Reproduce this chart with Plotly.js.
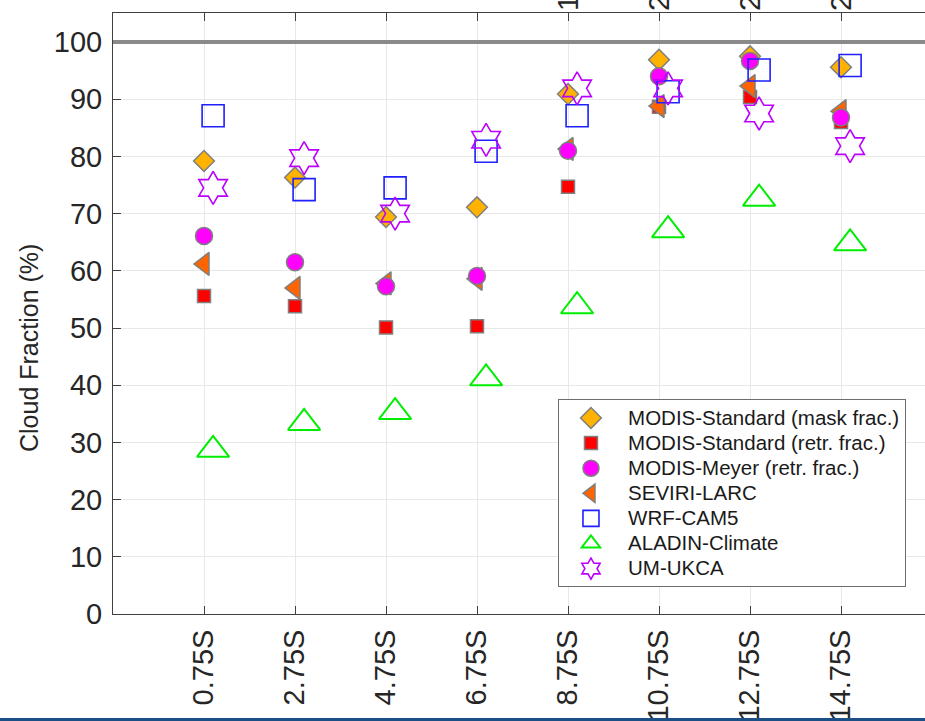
<!DOCTYPE html>
<html><head><meta charset="utf-8">
<script src="https://cdn.plot.ly/plotly-3.0.1.min.js"></script>
<style>
html,body{margin:0;padding:0;overflow:hidden;background:#fff}
#chart{width:925px;height:721px}
#edge{position:absolute;left:0;bottom:0;width:925px;height:3px;background:#1c4f85}
</style></head><body>
<div id="chart"></div><div id="edge"></div>
<script>
const categories = ["0.75S","2.75S","4.75S","6.75S","8.75S","10.75S","12.75S","14.75S"];
const topLabels = ["","","","","1","2","2","2"];
const yTitle = "Cloud Fraction (%)";
const refLevel = 100;
const seriesNames = ["MODIS-Standard (mask frac.)","MODIS-Standard (retr. frac.)","MODIS-Meyer (retr. frac.)","SEVIRI-LARC","WRF-CAM5","ALADIN-Climate","UM-UKCA"];
const modisMask = [79.2,76.3,69.4,71.1,90.9,96.9,97.5,95.6];
const modisRetr = [55.6,53.8,50.1,50.3,74.7,88.7,90.4,86.0];
const meyerRetr = [66.1,61.5,57.3,59.1,81.0,94.0,96.7,86.8];
const seviriLarc = [61.2,57.0,57.8,58.6,81.3,88.8,92.3,87.9];
const wrfCam5 = [87.1,74.2,74.5,80.9,87.1,91.3,95.1,95.9];
const aladinClimate = [28.7,33.4,35.3,41.2,53.8,67.1,72.6,64.8];
const umUkca = [74.5,79.7,70.0,82.9,91.9,91.9,87.5,81.8];

function xs(off){ return categories.map((c,i)=>i+1+off); }
function nm(s){ return '<span style="font-size:20.5px">&nbsp;&nbsp;&nbsp;'+s+'</span>'; }
const edge = {color:'#7f7f7f', width:1.5};

function tr(y, idx, off, marker){
  return {type:'scatter', mode:'markers', x:xs(off), y:y, name:nm(seriesNames[idx]),
          legendrank:idx+1, marker:marker, hoverinfo:'x+y'};
}

const data = [
  tr(modisMask,0,0,{symbol:'diamond',size:16,color:'#FFB300',line:edge}),
  tr(modisRetr,1,0,{symbol:'square',size:13,color:'#FF0000',line:edge}),
  tr(seviriLarc,3,0,{symbol:'triangle-left',size:20,color:'#FF6400',line:edge}),
  tr(meyerRetr,2,0,{symbol:'circle',size:17,color:'#FF00FF',line:edge}),
  tr(wrfCam5,4,0.1,{symbol:'square-open',size:22,color:'#1f1fff',line:{width:1.6}}),
  tr(aladinClimate,5,0.1,{symbol:'triangle-up-open',size:28,color:'#00ee00',line:{width:2}}),
  tr(umUkca,6,0.1,{symbol:'hexagram-open',size:25,color:'#bb00ff',line:{width:1.6}})
];

const annotations = [];
topLabels.forEach((t,i)=>{ if(t) annotations.push({x:i+1, y:1, xref:'x', yref:'paper', yanchor:'bottom',
  text:t, textangle:-90, showarrow:false, font:{size:29,color:'#262626'}}); });
annotations.push({xref:'paper', yref:'paper', x:-0.1034, y:0.4426, xanchor:'center', yanchor:'middle',
  text:yTitle, textangle:-90, showarrow:false, font:{size:25,color:'#262626'}});

const layout = {
  width:925, height:721,
  margin:{l:113, r:0, t:13, b:107},
  paper_bgcolor:'#ffffff', plot_bgcolor:'#ffffff',
  font:{family:'"Liberation Sans", Arial, sans-serif', color:'#262626'},
  showlegend:true,
  xaxis:{range:[0,8.923], tickmode:'array', tickvals:categories.map((c,i)=>i+1), ticktext:categories,
         tickangle:-90, tickfont:{size:29}, ticks:'inside', ticklen:8, tickcolor:'#404040',
         showline:true, linecolor:'#404040', linewidth:1, mirror:'ticks',
         showgrid:true, gridcolor:'#e8e8e8', zeroline:false, ticklabelstandoff:3},
  yaxis:{range:[0,105.07], tick0:0, dtick:10, tickfont:{size:29}, ticks:'inside', ticklen:8, tickcolor:'#404040',
         showline:true, linecolor:'#404040', linewidth:1, mirror:false,
         showgrid:true, gridcolor:'#e8e8e8', zeroline:false, ticklabelstandoff:4},
  legend:{x:0.548, y:0.357, xanchor:'left', yanchor:'top', bgcolor:'#ffffff',
          bordercolor:'#6e6e6e', borderwidth:1, font:{size:17,color:'#1a1a1a'},
          indentation:12, itemsizing:'trace', traceorder:'normal'},
  shapes:[{type:'line', xref:'paper', x0:0, x1:1, yref:'y', y0:refLevel, y1:refLevel,
           line:{color:'#8a8a8a', width:4}, layer:'above'}],
  annotations:annotations
};
Plotly.newPlot('chart', data, layout, {displayModeBar:false, staticPlot:true});
</script></body></html>
